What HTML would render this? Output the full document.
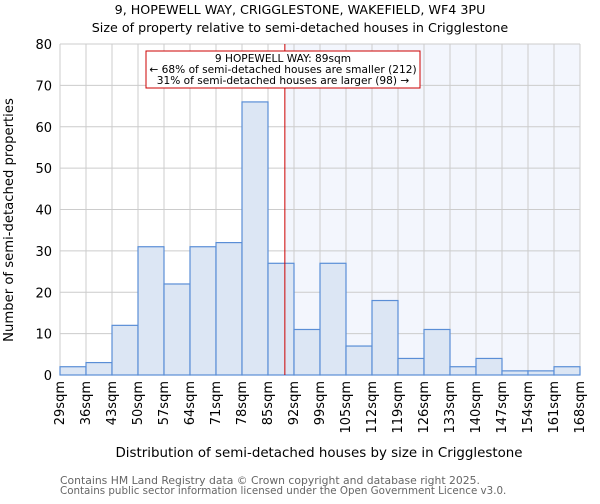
<!DOCTYPE html>
<html><head><meta charset="utf-8"><style>
body{margin:0;background:#fff;font-family:"DejaVu Sans","Liberation Sans",sans-serif;}
svg text{font-family:"DejaVu Sans","Liberation Sans",sans-serif;}
</style></head><body>
<svg id="c" width="600" height="500">
<text x="300" y="14" text-anchor="middle" font-size="12.7">9, HOPEWELL WAY, CRIGGLESTONE, WAKEFIELD, WF4 3PU</text>
<text x="300" y="32" text-anchor="middle" font-size="12.7">Size of property relative to semi-detached houses in Crigglestone</text>
<g id="plot"></g>
<text x="319" y="457" text-anchor="middle" font-size="13.4">Distribution of semi-detached houses by size in Crigglestone</text>
<text transform="translate(13,220) rotate(-90)" text-anchor="middle" font-size="13.2">Number of semi-detached properties</text>
<text x="60" y="484" font-size="10.8" fill="#666">Contains HM Land Registry data © Crown copyright and database right 2025.</text>
<text x="60" y="494" font-size="10.3" fill="#666">Contains public sector information licensed under the Open Government Licence v3.0.</text>
</svg>
<script>
const categories=["29sqm","36sqm","43sqm","50sqm","57sqm","64sqm","71sqm","78sqm","85sqm","92sqm","99sqm","105sqm","112sqm","119sqm","126sqm","133sqm","140sqm","147sqm","154sqm","161sqm","168sqm"];
const binEdges=[29,36,43,50,57,64,71,78,85,92,99,105,112,119,126,133,140,147,154,161,168];
const counts=[2,3,12,31,22,31,32,66,27,11,27,7,18,4,11,2,4,1,1,2];
const yTicks=[0,10,20,30,40,50,60,70,80];
const propertySize=89;
const NS="http://www.w3.org/2000/svg";
const L=60,R=580,T=44,B=375,n=counts.length,bw=(R-L)/n;
const y=v=>B-(B-T)*v/80;
const xi=i=>L+i*bw;
function xv(v){let i=0;while(i<binEdges.length-2&&v>binEdges[i+1])i++;return xi(i)+(v-binEdges[i])/(binEdges[i+1]-binEdges[i])*bw;}
const g=document.getElementById('plot');
function mk(t,a,p){const e=document.createElementNS(NS,t);for(const k in a)e.setAttribute(k,a[k]);(p||g).appendChild(e);return e;}
const rx=xv(propertySize)+2;
let e=mk('rect',{x:rx,y:T,width:R-rx,height:B-T,fill:'#f3f6fd'});


for(let i=0;i<=n;i++){e=mk('line',{x1:xi(i),x2:xi(i),y1:T,y2:B,stroke:'#ccc'});

}
yTicks.forEach(t=>{e=mk('line',{x1:L,x2:R,y1:y(t),y2:y(t),stroke:'#ccc'});


e=mk('text',{x:L-8,y:y(t)+5,'text-anchor':'end','font-size':13});e.textContent=t;

});
counts.forEach((c,i)=>{e=mk('rect',{x:xi(i),y:y(c),width:bw,height:B-y(c),fill:'#dce6f4',stroke:'#5a8ed6','stroke-width':1.2});

});
categories.forEach((c,i)=>{const x=xi(i)+4;e=mk('text',{transform:`translate(${x},381) rotate(-90)`,'text-anchor':'end','font-size':13});e.textContent=c;

});
e=mk('line',{x1:rx,x2:rx,y1:T,y2:B,stroke:'#cc0000','stroke-width':1});


e=mk('rect',{x:146,y:51,width:274,height:37,fill:'#fff',stroke:'#cc0000'});


["9 HOPEWELL WAY: 89sqm","← 68% of semi-detached houses are smaller (212)","31% of semi-detached houses are larger (98) →"].forEach((s,i)=>{
e=mk('text',{x:283,y:62+i*11,'text-anchor':'middle','font-size':10.6});e.textContent=s;

});
</script>
</body></html>
